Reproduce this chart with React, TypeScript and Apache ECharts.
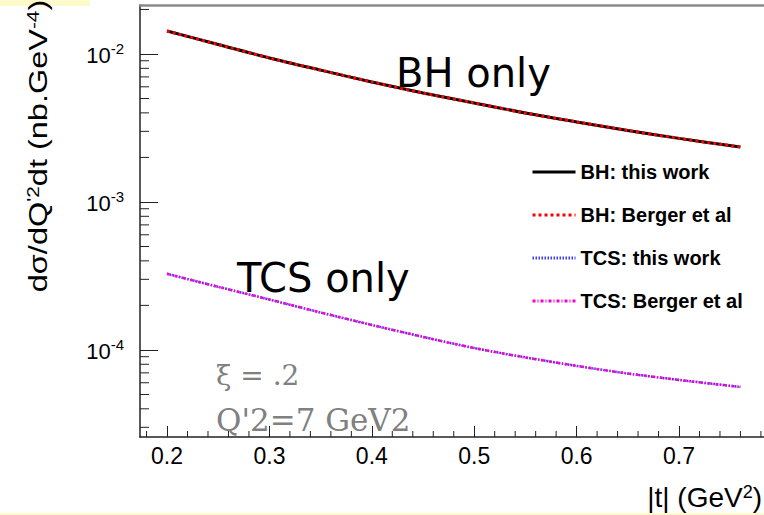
import React, { useEffect, useRef } from "react";
import * as echarts from "echarts";

// |t| values (GeV^2)
const tValues = [0.2, 0.25, 0.3, 0.35, 0.4, 0.45, 0.5, 0.55, 0.6, 0.65, 0.7, 0.76];
// BH cross sections (nb.GeV^-4)
const bhThisWork = [0.01429, 0.01159, 0.0094, 0.00778, 0.00647, 0.00545, 0.00467, 0.00399, 0.00347, 0.00304, 0.00269, 0.00235];
const bhBerger = [0.01429, 0.01159, 0.0094, 0.00778, 0.00647, 0.00545, 0.00467, 0.00399, 0.00347, 0.00304, 0.00269, 0.00235];
// TCS cross sections (nb.GeV^-4)
const tcsThisWork = [3.27e-4, 2.67e-4, 2.19e-4, 1.79e-4, 1.475e-4, 1.225e-4, 1.03e-4, 8.9e-5, 7.8e-5, 6.93e-5, 6.27e-5, 5.62e-5];
const tcsBerger = [3.27e-4, 2.67e-4, 2.19e-4, 1.79e-4, 1.475e-4, 1.225e-4, 1.03e-4, 8.9e-5, 7.8e-5, 6.93e-5, 6.27e-5, 5.62e-5];

// axis ticks
const xMajorTicks = [0.2, 0.3, 0.4, 0.5, 0.6, 0.7];
const xMinorTicks = [0.18, 0.22, 0.24, 0.26, 0.28, 0.32, 0.34, 0.36, 0.38, 0.42, 0.44, 0.46, 0.48, 0.52, 0.54, 0.56, 0.58, 0.62, 0.64, 0.66, 0.68, 0.72, 0.74, 0.76, 0.78];
const yMajorTicks = [1e-4, 1e-3, 1e-2];
const yMinorTicks = [3e-5, 4e-5, 5e-5, 6e-5, 7e-5, 8e-5, 9e-5, 2e-4, 3e-4, 4e-4, 5e-4, 6e-4, 7e-4, 8e-4, 9e-4, 2e-3, 3e-3, 4e-3, 5e-3, 6e-3, 7e-3, 8e-3, 9e-3, 2e-2];

const X_MIN = 0.1736;
const X_MAX = 0.783;
const Y_MIN = 2.58e-5;
const Y_MAX = 0.02143;

const SANS = "'Liberation Sans', Arial, sans-serif";
const SERIF = "'DejaVu Serif', serif";

export default function App() {
  const ref = useRef<HTMLDivElement>(null);
  useEffect(() => {
    if (!ref.current) return;
    const chart = echarts.init(ref.current, null, { renderer: "svg" });
    const toPairs = (ys: number[]) => tValues.map((t, i) => [t, ys[i]]);
    const tickColor = "#222";
    const option: any = {
      animation: false,
      backgroundColor: "#ffffff",
      grid: { left: 140, top: 5, right: 0, bottom: 78 },
      xAxis: [
        {
          type: "value",
          min: X_MIN,
          max: X_MAX,
          position: "bottom",
          axisLine: { show: true, lineStyle: { color: tickColor, width: 1.5 } },
          axisTick: { show: true, inside: true, length: 11, customValues: xMajorTicks, lineStyle: { color: tickColor, width: 1 } },
          axisLabel: {
            customValues: xMajorTicks,
            fontSize: 23,
            fontFamily: SANS,
            color: "#000",
            margin: 7,
            formatter: (v: number) => v.toFixed(1),
          },
          splitLine: { show: false },
        },
        {
          type: "value",
          min: X_MIN,
          max: X_MAX,
          position: "top",
          axisLine: { show: true, lineStyle: { color: "#8a8a8a", width: 2.5 } },
          axisTick: { show: false },
          axisLabel: { show: false },
          splitLine: { show: false },
        },
      ],
      yAxis: [
        {
          type: "log",
          logBase: 10,
          min: Y_MIN,
          max: Y_MAX,
          axisLine: { show: true, lineStyle: { color: tickColor, width: 1.5 } },
          axisTick: { show: true, inside: true, length: 18, customValues: yMajorTicks, lineStyle: { color: tickColor, width: 1 } },
          axisLabel: {
            customValues: yMajorTicks,
            margin: 16,
            formatter: (v: number) => `{b|10}{s|${Math.round(Math.log10(v))}}`,
            rich: {
              b: { fontSize: 22, fontFamily: SANS, color: "#000", lineHeight: 26, verticalAlign: "bottom" },
              s: { fontSize: 15, fontFamily: SANS, color: "#000", lineHeight: 15, verticalAlign: "top" },
            },
          },
          splitLine: { show: false },
        },
      ],
      legend: {
        data: ["BH: this work", "BH: Berger et al", "TCS: this work", "TCS: Berger et al"],
        orient: "vertical",
        left: 526,
        top: 157,
        itemWidth: 43,
        itemHeight: 14,
        itemGap: 23,
        selectedMode: false,
        itemStyle: { opacity: 0 },
        lineStyle: { width: 3 },
        textStyle: { fontSize: 20, fontWeight: "bold", fontFamily: SANS, color: "#000", lineHeight: 20 },
      },
      graphic: [
        { type: "rect", z: -10, shape: { x: 0, y: 0, width: 90, height: 6 }, style: { fill: "#fdfacc" } },
        { type: "rect", z: -10, shape: { x: 0, y: 513, width: 764, height: 2 }, style: { fill: "#fdfacc" } },
        {
          type: "text",
          x: 38,
          y: 146,
          rotation: Math.PI / 2,
          scaleX: 1.3,
          style: {
            text: "dσ/dQ{s|'2}dt (nb.GeV{s|-4})",
            fontSize: 25,
            fontFamily: SANS,
            fill: "#000",
            align: "center",
            verticalAlign: "middle",
            rich: { s: { fontSize: 16, verticalAlign: "top", lineHeight: 16, fontFamily: SANS, fill: "#000" } },
          },
        },
        {
          type: "text",
          x: 762,
          y: 497,
          style: {
            text: "|t| (GeV{s|2})",
            fontSize: 28,
            fontFamily: SANS,
            fill: "#000",
            align: "right",
            verticalAlign: "middle",
            rich: { s: { fontSize: 18, verticalAlign: "top", lineHeight: 18, fontFamily: SANS, fill: "#000" } },
          },
        },
        { type: "text", x: 396, y: 73, style: { text: "BH only", fontSize: 40, fontFamily: "'DejaVu Sans', sans-serif", fill: "#000", verticalAlign: "middle" } },
        { type: "text", x: 237, y: 278, style: { text: "TCS only", fontSize: 40, fontFamily: "'DejaVu Sans', sans-serif", fill: "#000", verticalAlign: "middle" } },
        { type: "text", x: 216, y: 375, style: { text: "ξ = .2", fontSize: 28, fontFamily: SERIF, fill: "#808080", verticalAlign: "middle" } },
        { type: "text", x: 216, y: 420, style: { text: "Q'2=7 GeV2", fontSize: 31, fontFamily: SERIF, fill: "#808080", verticalAlign: "middle" } },
      ],
      series: [
        {
          type: "custom",
          name: "xMinorTicks",
          silent: true,
          clip: false,
          data: xMinorTicks.map((v) => [v, Y_MIN]),
          renderItem: (_p: any, api: any) => {
            const p = api.coord([api.value(0), api.value(1)]);
            return { type: "line", shape: { x1: p[0], y1: p[1], x2: p[0], y2: p[1] - 6 }, style: { stroke: tickColor, lineWidth: 1 } };
          },
        },
        {
          type: "custom",
          name: "yMinorTicks",
          silent: true,
          clip: false,
          data: yMinorTicks.map((v) => [X_MIN, v]),
          renderItem: (_p: any, api: any) => {
            const p = api.coord([api.value(0), api.value(1)]);
            return { type: "line", shape: { x1: p[0], y1: p[1], x2: p[0] + 9, y2: p[1] }, style: { stroke: tickColor, lineWidth: 1 } };
          },
        },
        {
          type: "line",
          name: "BH: this work",
          data: toPairs(bhThisWork),
          symbol: "none",
          smooth: 0.3,
          lineStyle: { color: "#000000", width: 3, type: "solid" },
          itemStyle: { color: "#000000" },
          z: 3,
        },
        {
          type: "line",
          name: "BH: Berger et al",
          data: toPairs(bhBerger),
          symbol: "none",
          smooth: 0.3,
          lineStyle: { color: "#ff0000", width: 3, type: [3, 3] },
          itemStyle: { color: "#ff0000" },
          z: 4,
        },
        {
          type: "line",
          name: "TCS: this work",
          data: toPairs(tcsThisWork),
          symbol: "none",
          smooth: 0.3,
          lineStyle: { color: "#3c3cff", width: 2.5, type: [1.5, 1.5] },
          itemStyle: { color: "#3c3cff" },
          z: 3,
        },
        {
          type: "line",
          name: "TCS: Berger et al",
          data: toPairs(tcsBerger),
          symbol: "none",
          smooth: 0.3,
          lineStyle: { color: "#ff00cc", width: 2.5, type: [3, 2, 1, 2] },
          itemStyle: { color: "#ff00cc" },
          z: 4,
        },
      ],
    };
    chart.setOption(option);
    return () => chart.dispose();
  }, []);
  return <div ref={ref} style={{ position: "fixed", left: 0, top: 0, width: 764, height: 515 }} />;
}
